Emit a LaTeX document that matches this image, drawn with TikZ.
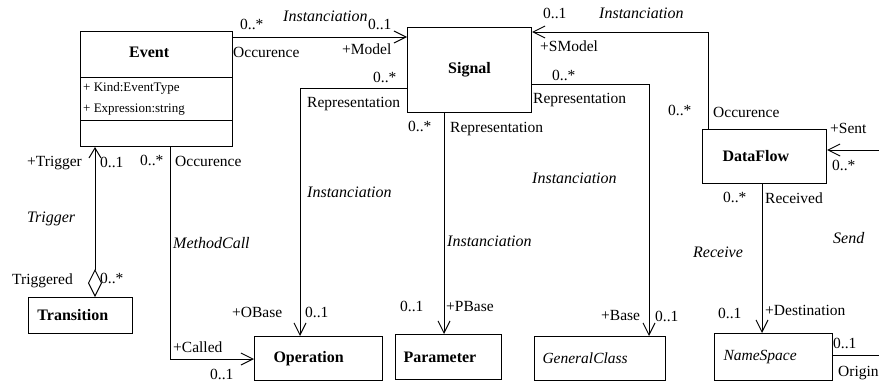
\documentclass[tikz,border=0pt]{standalone}
\usepackage{fontspec}
\setmainfont{Liberation Serif}
\newfontfamily\umlfont{Liberation Serif}
\usepackage{tikz}
\usetikzlibrary{arrows.meta}
\tikzset{
  classbox/.style={draw=black, line width=1pt, anchor=north west, align=left,
    inner xsep=9pt, inner ysep=0pt, font=\umlfont\fontsize{16}{18}\selectfont\bfseries},
  abstractbox/.style={classbox, font=\umlfont\fontsize{15.5}{18}\selectfont\itshape},
  classname/.style={font=\umlfont\fontsize{16}{18}\selectfont\bfseries, inner sep=0pt, anchor=base west},
  attrib/.style={font=\umlfont\fontsize{13}{15}\selectfont, inner sep=0pt, anchor=base west},
  role/.style={font=\umlfont\fontsize{15.5}{17}\selectfont, inner sep=0pt, anchor=base west},
  assocname/.style={font=\umlfont\fontsize{16}{17}\selectfont\itshape, inner sep=0pt, anchor=base west},
  navarrow/.style={-{Straight Barb[length=12pt,width=12pt]}, line width=1pt},
  aggregation/.style={{Diamond[open,length=28pt,width=14pt]}-{Straight Barb[length=10pt,width=12pt]},
    line width=1pt}
}

\begin{document}
\begin{tikzpicture}[x=1pt,y=-1pt]
  \useasboundingbox[fill=white] (0,0) rectangle (879,383);

  % classes
  \node[classbox, minimum width=152pt, minimum height=115pt] (event) at (80,31) {};
  \node[classname] (event-name) at (129,57) {Event};
  \node[attrib] (event-kind) at (83,91) {+ Kind:EventType};
  \node[attrib] (event-expr) at (83,112) {+ Expression:string};
  \draw[line width=1pt] (event.west |- 0,77) -- (event.east |- 0,77);
  \draw[line width=1pt] (event.west |- 0,120) -- (event.east |- 0,120);

  \node[classbox, align=center, inner xsep=0pt, minimum width=124pt, minimum height=85pt] (signal) at (407,27) {Signal};
  \node[classbox, text width=84pt, inner xsep=20pt, minimum height=54pt] (dataflow) at (702,129) {DataFlow};
  \node[classbox, text width=86pt, minimum height=36pt] (transition) at (28,297) {Transition};
  \node[classbox, text width=90pt, inner xsep=19pt, minimum height=44pt] (operation) at (254,336) {Operation};
  \node[classbox, text width=90pt, inner xsep=8pt, minimum height=45pt] (parameter) at (395,334) {Parameter};
  \node[abstractbox, text width=115pt, inner xsep=8pt, minimum height=44pt] (generalclass) at (534,336) {GeneralClass};
  \node[abstractbox, text width=100pt, minimum height=47pt] (namespace) at (714,333) {NameSpace};

  % Event -> Signal
  \draw[navarrow] (event.east |- 0,37) -- (signal.west |- 0,37);
  \node[role] (evsig-mult1) at (240,29) {0..*};
  \node[role] (evsig-role1) at (233,57) {Occurence};
  \node[assocname] (evsig-name) at (283,21) {Instanciation};
  \node[role] (evsig-mult2) at (368,29) {0..1};
  \node[role] (evsig-role2) at (342,54) {+Model};

  % DataFlow -> Signal
  \draw[navarrow] (dataflow.north -| 708,0) |- (signal.east |- 0,32);
  \node[role] (dfsig-mult1) at (668,115) {0..*};
  \node[role] (dfsig-role1) at (713,117) {Occurence};
  \node[assocname] (dfsig-name) at (599,18) {Instanciation};
  \node[role] (dfsig-mult2) at (543,18) {0..1};
  \node[role] (dfsig-role2) at (540,51) {+SModel};

  % Signal -> GeneralClass
  \draw[navarrow] (signal.east |- 0,84) -| (generalclass.north -| 649,0);
  \node[role] (sigcl-mult1) at (552,80) {0..*};
  \node[role] (sigcl-role1) at (533,103) {Representation};
  \node[assocname] (sigcl-name) at (532,183) {Instanciation};
  \node[role] (sigcl-role2) at (601,320) {+Base};
  \node[role] (sigcl-mult2) at (655,321) {0..1};

  % Signal -> Operation
  \draw[navarrow] (signal.west |- 0,88) -| (operation.north -| 300,0);
  \node[role] (sigop-mult1) at (373,82) {0..*};
  \node[role] (sigop-role1) at (307,107) {Representation};
  \node[assocname] (sigop-name) at (307,197) {Instanciation};
  \node[role] (sigop-role2) at (232,317) {+OBase};
  \node[role] (sigop-mult2) at (305,317) {0..1};

  % Signal -> Parameter
  \draw[navarrow] (signal.south -| 444,0) -- (parameter.north -| 444,0);
  \node[role] (sigpar-mult1) at (408,131) {0..*};
  \node[role] (sigpar-role1) at (450,132) {Representation};
  \node[assocname] (sigpar-name) at (447,246) {Instanciation};
  \node[role] (sigpar-mult2) at (400,311) {0..1};
  \node[role] (sigpar-role2) at (446,311) {+PBase};

  % Event -> Operation
  \draw[navarrow] (event.south -| 170,0) |- (operation.west |- 0,359);
  \node[role] (evop-mult1) at (140,165) {0..*};
  \node[role] (evop-role1) at (175,166) {Occurence};
  \node[assocname] (evop-name) at (173,248) {MethodCall};
  \node[role] (evop-role2) at (173,352) {+Called};
  \node[role] (evop-mult2) at (210,379) {0..1};

  % Transition -> Event
  \draw[aggregation] (transition.north -| 95,0) -- (event.south -| 95,0);
  \node[role] (trev-role2) at (27,166) {+Trigger};
  \node[role] (trev-mult2) at (100,167) {0..1};
  \node[assocname] (trev-name) at (27,222) {Trigger};
  \node[role] (trev-role1) at (12,284) {Triggered};
  \node[role] (trev-mult1) at (100,283) {0..*};

  % DataFlow -> NameSpace
  \draw[navarrow] (dataflow.south -| 762,0) -- (namespace.north -| 762,0);
  \node[role] (dfns-mult1) at (723,202) {0..*};
  \node[role] (dfns-role1) at (765,203) {Received};
  \node[assocname] (dfns-name) at (693,257) {Receive};
  \node[role] (dfns-mult2) at (718,318) {0..1};
  \node[role] (dfns-role2) at (765,315) {+Destination};

  % NameSpace -> DataFlow, runs round the right edge
  \coordinate (sendbend) at (892,150);
  \draw[navarrow] (namespace.east |- 0,355) -| (sendbend) -- (dataflow.east |- 0,150);
  \node[role] (nsdf-role2) at (830,133) {+Sent};
  \node[role] (nsdf-mult2) at (832,170) {0..*};
  \node[assocname] (nsdf-name) at (833,243) {Send};
  \node[role] (nsdf-mult1) at (833,348) {0..1};
  \node[role] (nsdf-role1) at (838,376) {Origin};
\end{tikzpicture}
\end{document}
